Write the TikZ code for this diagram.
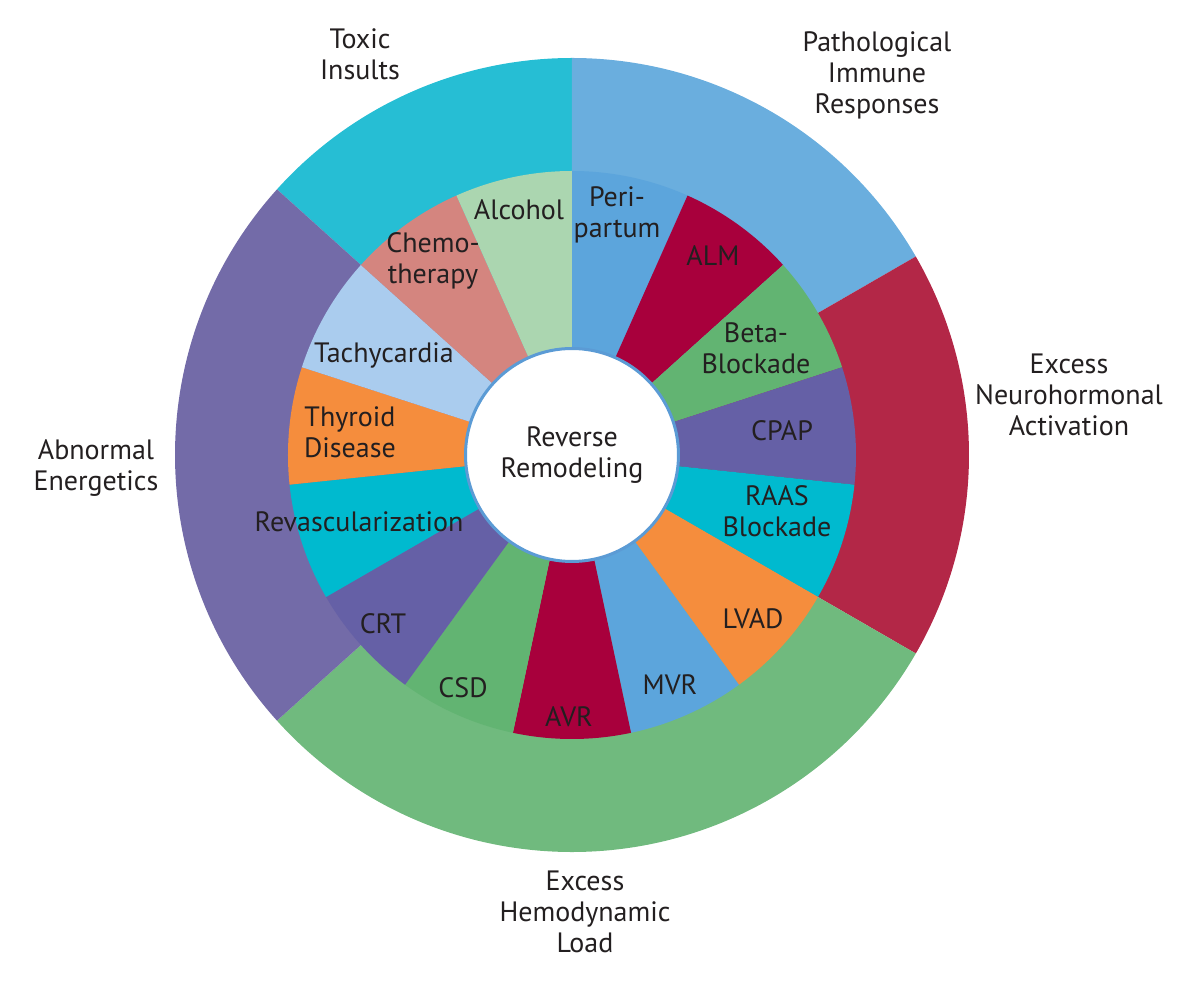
\documentclass[tikz,border=0pt]{standalone}
\usepackage{fontspec}
\setmainfont{PT Sans}
\usepackage{tikz}

\definecolor{toxic}{HTML}{26BED4}
\definecolor{immune}{HTML}{6AAEDE}
\definecolor{neuro}{HTML}{B32747}
\definecolor{hemo}{HTML}{70BA7E}
\definecolor{energ}{HTML}{736BA8}
\definecolor{alcoholc}{HTML}{ABD6B0}
\definecolor{chemoc}{HTML}{D4857F}
\definecolor{tachyc}{HTML}{AACCEE}
\definecolor{orangec}{HTML}{F58D3D}
\definecolor{cyanc}{HTML}{00BACF}
\definecolor{purplec}{HTML}{6560A6}
\definecolor{greenc}{HTML}{62B472}
\definecolor{crimsonc}{HTML}{A8003C}
\definecolor{bluec}{HTML}{5CA5DC}
\definecolor{ringc}{HTML}{5B9BD5}
\definecolor{txt}{HTML}{231F20}

\begin{document}
\begin{tikzpicture}[x=1pt,y=1pt,
    lab/.style={text=txt,align=center,inner sep=0pt,font=\fontsize{28}{31}\selectfont}]
\useasboundingbox (-572,-529) rectangle (628,455);
% outer ring
\fill[toxic]  (0,0) -- (90:397)  arc[start angle=90,  end angle=138, radius=397pt] -- cycle;
\fill[immune] (0,0) -- (30:397)  arc[start angle=30,  end angle=90,  radius=397pt] -- cycle;
\fill[neuro]  (0,0) -- (-30:397) arc[start angle=-30, end angle=30,  radius=397pt] -- cycle;
\fill[hemo]   (0,0) -- (-138:397) arc[start angle=-138, end angle=-30, radius=397pt] -- cycle;
\fill[energ]  (0,0) -- (138:397) arc[start angle=138, end angle=222, radius=397pt] -- cycle;
% inner wedges
\begin{scope}
    \fill[bluec]    (0,0) -- (66:284)  arc[start angle=66,  end angle=90,  radius=284pt] -- cycle;
    \fill[crimsonc] (0,0) -- (42:284)  arc[start angle=42,  end angle=66,  radius=284pt] -- cycle;
    \fill[greenc]   (0,0) -- (18:284)  arc[start angle=18,  end angle=42,  radius=284pt] -- cycle;
    \fill[purplec]  (0,0) -- (-6:284)  arc[start angle=-6,  end angle=18,  radius=284pt] -- cycle;
    \fill[cyanc]    (0,0) -- (-30:284) arc[start angle=-30, end angle=-6,  radius=284pt] -- cycle;
    \fill[orangec]  (0,0) -- (-54:284) arc[start angle=-54, end angle=-30, radius=284pt] -- cycle;
    \fill[bluec]    (0,0) -- (-78:284) arc[start angle=-78, end angle=-54, radius=284pt] -- cycle;
    \fill[crimsonc] (0,0) -- (-102:284) arc[start angle=-102, end angle=-78, radius=284pt] -- cycle;
    \fill[greenc]   (0,0) -- (-126:284) arc[start angle=-126, end angle=-102, radius=284pt] -- cycle;
    \fill[purplec]  (0,0) -- (-150:284) arc[start angle=-150, end angle=-126, radius=284pt] -- cycle;
    \fill[cyanc]    (0,0) -- (186:284) arc[start angle=186, end angle=210, radius=284pt] -- cycle;
    \fill[orangec]  (0,0) -- (162:284) arc[start angle=162, end angle=186, radius=284pt] -- cycle;
    \fill[tachyc]   (0,0) -- (138:284) arc[start angle=138, end angle=162, radius=284pt] -- cycle;
    \fill[chemoc]   (0,0) -- (114:284) arc[start angle=114, end angle=138, radius=284pt] -- cycle;
    \fill[alcoholc] (0,0) -- (90:284)  arc[start angle=90,  end angle=114, radius=284pt] -- cycle;
\end{scope}
\node [lab,circle,draw=ringc,line width=3pt,fill=white,minimum size=213pt] (reverse) at (0,0) {Reverse\\Remodeling};

% wedge labels
\node [lab] (alcohol) at (-53,245) {Alcohol};
\node [lab] (peri) at (45,240) {Peri-\\partum};
\node [lab] (alm) at (141,199) {ALM};
\node [lab] (beta) at (184,107) {Beta-\\Blockade};
\node [lab] (cpap) at (210,24) {CPAP};
\node [lab] (raas) at (205,-56) {RAAS\\Blockade};
\node [lab] (lvad) at (181,-164) {LVAD};
\node [lab] (mvr) at (98,-230) {MVR};
\node [lab] (avr) at (-3,-262) {AVR};
\node [lab] (csd) at (-109,-233) {CSD};
\node [lab] (crt) at (-189,-169) {CRT};
\node [lab] (revasc) at (-213,-67) {Revascularization};
\node [lab] (thyroid) at (-222,23) {Thyroid\\Disease};
\node [lab] (tachy) at (-188,100) {Tachycardia};
\node [lab] (chemo) at (-139,194) {Chemo-\\therapy};

% ring labels
\node [lab] (toxiclab) at (-212,401) {Toxic\\Insults};
\node [lab] (immunelab) at (305,380) {Pathological\\Immune\\Responses};
\node [lab] (neurolab) at (497,60) {Excess\\Neurohormonal\\Activation};
\node [lab] (energlab) at (-476,-13) {Abnormal\\Energetics};
\node [lab] (hemolab) at (13,-457) {Excess\\Hemodynamic\\Load};
\end{tikzpicture}
\end{document}
